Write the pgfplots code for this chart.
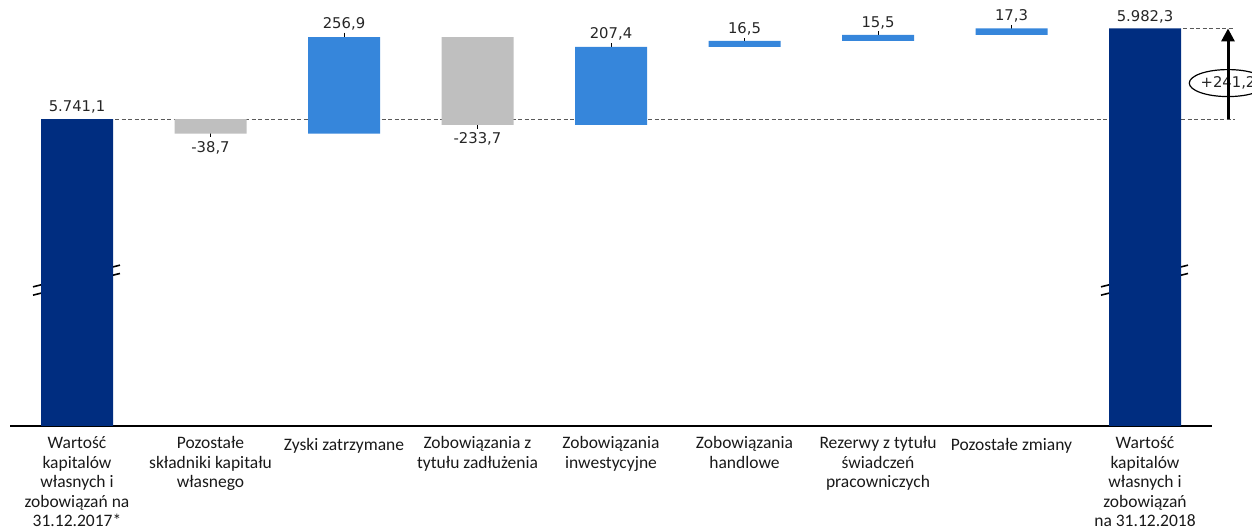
\documentclass[border=0pt]{standalone}
\usepackage{pgfplots}
\pgfplotsset{compat=1.18}
\usepackage{pgfplotstable}
\usepackage{fontspec}
\setmainfont{Carlito}
\newfontfamily\vfont{DejaVu Sans}
\usetikzlibrary{arrows.meta,shapes.geometric}
\definecolor{navy}{HTML}{002D80}
\definecolor{wblue}{HTML}{3686DB}
\definecolor{wgrey}{HTML}{BFBFBF}
\definecolor{dgrey}{HTML}{595959}

\pgfplotstableread{
x base tot neg pos
0 4925.0 816.1 0 0
1 5702.4 0 38.7 0
2 5702.4 0 0 256.9
3 5725.6 0 233.7 0
4 5725.6 0 0 207.4
5 5933.0 0 0 16.5
6 5949.5 0 0 15.5
7 5965.0 0 0 17.3
8 4925.0 1057.3 0 0
}\wf

\tikzset{lab/.style={anchor=base, font=\vfont\fontsize{14.8}{16}\selectfont, text=black!85, inner sep=0pt}}

\begin{document}
\begin{tikzpicture}[x=1pt,y=1pt]
\path[use as bounding box] (0,0) rectangle (1252,529);
\begin{axis}[
  at={(10.25pt,103pt)}, anchor=south west,
  scale only axis, width=1201.5pt, height=426pt,
  xmin=-0.5, xmax=8.5, ymin=4925, ymax=6058,
  ybar stacked, bar width=72pt,
  axis x line=bottom, axis y line=none,
  x axis line style={-, black, line width=1.3pt},
  ytick=\empty,
  xtick={0,...,8},
  xticklabels={
    {Wartość\\kapitalów\\własnych i\\zobowiązań na\\31.12.2017*},
    {Pozostałe\\składniki kapitału\\własnego},
    {Zyski zatrzymane},
    {Zobowiązania z\\tytułu zadłużenia},
    {Zobowiązania\\inwestycyjne},
    {Zobowiązania\\handlowe},
    {Rezerwy z tytułu\\świadczeń\\pracowniczych},
    {Pozostałe zmiany},
    {Wartość\\kapitalów\\własnych i\\zobowiązań\\na 31.12.2018}},
  major tick length=0pt,
  xtick style={draw=none},
  xticklabel style={anchor=north, yshift=-10.3pt, align=center,
    font=\fontsize{17.5}{19.6}\selectfont, text=black!90, inner sep=0pt,
    execute at begin node=\strut},
  clip mode=individual,
]
\addplot[draw=none, fill=none] table[x=x,y=base]{\wf};
\addplot[draw=none, fill=navy] table[x=x,y=tot]{\wf};
\addplot[draw=none, fill=wgrey] table[x=x,y=neg]{\wf};
\addplot[draw=none, fill=wblue] table[x=x,y=pos]{\wf};

% reference dashed lines
\draw[dgrey, line width=1.2pt, dash pattern=on 4pt off 2.5pt] (axis cs:0.285,5741.1) -- (axis cs:8.674,5741.1);
\draw[dgrey, line width=1.2pt, dash pattern=on 4pt off 2.5pt] (axis cs:8.285,5982.3) -- (axis cs:8.674,5982.3);

% difference arrow
\draw[line width=3pt, -{Triangle[length=13pt,width=13pt]}] (axis cs:8.6217,5741.1) -- (axis cs:8.6217,5982.3);
\node[draw, ellipse, line width=1.2pt, fill=white, minimum width=68pt, minimum height=27pt, inner sep=0pt,
  font=\vfont\fontsize{14.8}{16}\selectfont, text=black!85] at (axis cs:8.6217,5837) {+241,2};

% axis break marks
\draw[line width=1.6pt] (axis cs:-0.3296,5295.1) -- (axis cs:0.322,5352.8);
\draw[line width=1.6pt] (axis cs:-0.3296,5273.0) -- (axis cs:0.322,5330.7);
\draw[line width=1.6pt] (axis cs:7.6704,5295.1) -- (axis cs:8.322,5352.8);
\draw[line width=1.6pt] (axis cs:7.6704,5273.0) -- (axis cs:8.322,5330.7);

% value labels and leader lines
\node[lab] at ([yshift=7.5pt]axis cs:0,5741.1) {5.741,1};
\node[lab] at ([yshift=7.3pt]axis cs:8,5982.3) {5.982,3};

\draw[line width=1pt] ([yshift=7.6pt]axis cs:1,5702.4) -- ([yshift=-3.4pt]axis cs:1,5702.4);
\node[lab] at ([yshift=-18.4pt]axis cs:1,5702.4) {-38,7};

\draw[line width=1pt] ([yshift=4.4pt]axis cs:2,5959.3) -- ([yshift=-10.6pt]axis cs:2,5959.3);
\node[lab] at ([yshift=8.7pt]axis cs:2,5959.3) {256,9};

\draw[line width=1pt] ([yshift=10.8pt]axis cs:3,5725.6) -- ([yshift=-4.2pt]axis cs:3,5725.6);
\node[lab] at ([yshift=-18.5pt]axis cs:3,5725.6) {-233,7};

\draw[line width=1pt] ([yshift=3.6pt]axis cs:4,5933.0) -- ([yshift=-11.4pt]axis cs:4,5933.0);
\node[lab] at ([yshift=8.3pt]axis cs:4,5933.0) {207,4};

\draw[line width=1pt] ([yshift=2.7pt]axis cs:5,5949.5) -- ([yshift=-2.9pt]axis cs:5,5949.5);
\node[lab] at ([yshift=7.1pt]axis cs:5,5949.5) {16,5};

\draw[line width=1pt] ([yshift=3.5pt]axis cs:6,5965.0) -- ([yshift=-3.2pt]axis cs:6,5965.0);
\node[lab] at ([yshift=7.8pt]axis cs:6,5965.0) {15,5};

\draw[line width=1pt] ([yshift=3.7pt]axis cs:7,5982.3) -- ([yshift=-4.3pt]axis cs:7,5982.3);
\node[lab] at ([yshift=8pt]axis cs:7,5982.3) {17,3};
\end{axis}
\end{tikzpicture}
\end{document}
